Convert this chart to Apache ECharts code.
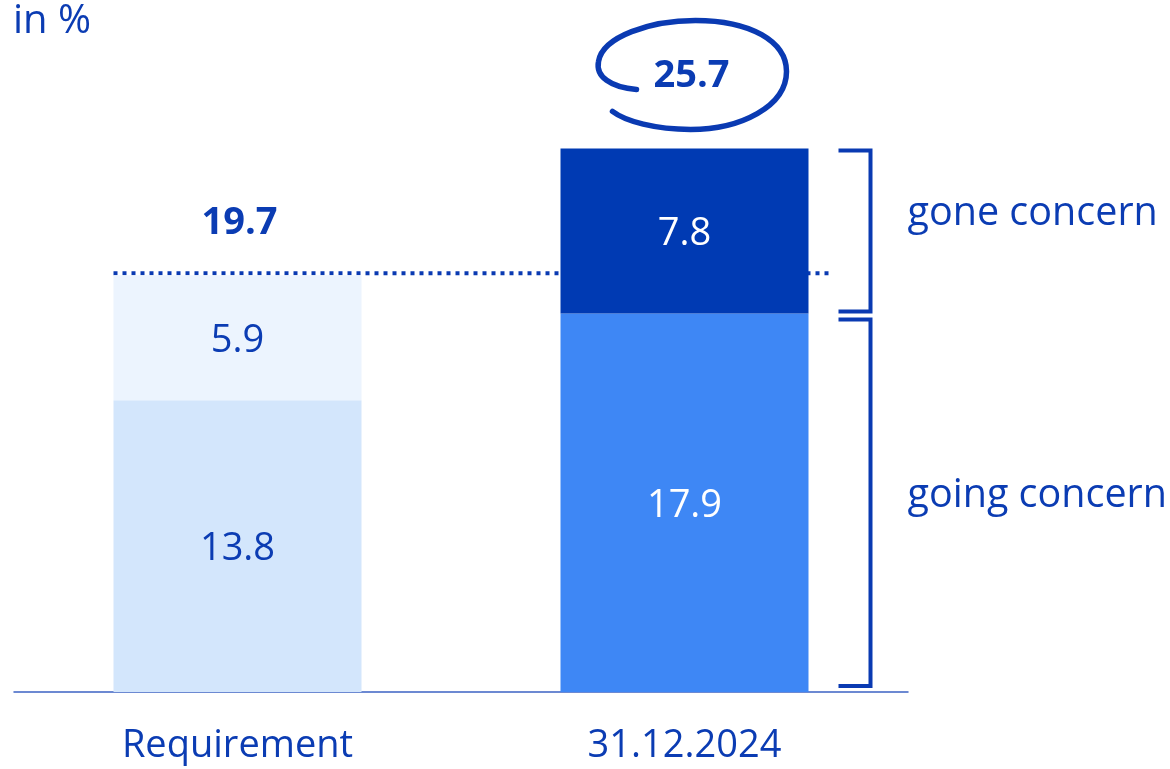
<!DOCTYPE html>
<html>
<head>
<meta charset="utf-8">
<script src="https://cdn.jsdelivr.net/npm/echarts@6/dist/echarts.min.js"></script>
<style>
  html, body { margin: 0; padding: 0; background: #ffffff; }
  #chart { width: 1170px; height: 769px; }
</style>
</head>
<body>
<div id="chart"></div>
<script>
// Capital ratios, in %
const categories = ['Requirement', '31.12.2024'];
const goingConcern = [13.8, 17.9];
const goneConcern = [5.9, 7.8];
const totals = [19.7, 25.7];
const bracketLabels = ['gone concern', 'going concern'];
const unitLabel = 'in %';

const FONT = '"Open Sans", "Noto Sans", sans-serif';
const TEXT = '#0b3cb3';
const LINE = '#0a3ab2';
const BAR_W = 248;

const baseColors = ['#d3e6fc', '#3e87f5'];
const topColors = ['#ecf4fe', '#003ab3'];
const baseLabelColors = [TEXT, '#ffffff'];
const topLabelColors = [TEXT, '#ffffff'];

// label offsets for the totals above each column
const totalOffsets = [[2, -52], [7, -72]];

const chart = echarts.init(document.getElementById('chart'), null, { renderer: 'canvas' });

function stackData(values, colors, labelColors) {
  return values.map((v, i) => ({
    value: v,
    itemStyle: { color: colors[i] },
    label: { color: labelColors[i] }
  }));
}

// bracket ranges on the reported column: gone concern on top, going concern below
const last = categories.length - 1;
const bracketData = [
  [goingConcern[last], goingConcern[last] + goneConcern[last], 0],
  [0, goingConcern[last], 1]
];
const bracketInsets = [[2, 2], [6, 6]];
const bracketTextShift = [-17, -7];

const segmentLabel = {
  show: true,
  position: 'inside',
  offset: [0, 3],
  fontFamily: FONT,
  fontSize: 38,
  formatter: p => p.value.toFixed(1)
};

const option = {
  animation: false,
  title: {
    text: unitLabel,
    left: 8,
    top: -3,
    textStyle: { fontFamily: FONT, fontSize: 40, fontWeight: 'normal', color: TEXT }
  },
  grid: { left: 14, right: 262, top: 57.5, bottom: 77, containLabel: false },
  xAxis: {
    type: 'category',
    data: categories,
    axisLine: { show: true, lineStyle: { color: '#3d63c4', width: 1.5 } },
    axisTick: { show: false },
    axisLabel: { color: TEXT, fontFamily: FONT, fontSize: 38, margin: 35 }
  },
  yAxis: {
    type: 'value',
    min: 0,
    max: 30,
    show: false,
    splitLine: { show: false }
  },
  series: [
    {
      // dotted requirement level, sitting on the requirement column and
      // running behind the reported column
      type: 'custom',
      z: 1,
      silent: true,
      data: [[0, totals[0]]],
      renderItem: function (params, api) {
        const p0 = api.coord([0, api.value(1)]);
        const p1 = api.coord([last, api.value(1)]);
        return {
          type: 'line',
          shape: { x1: p0[0] - BAR_W / 2, y1: p0[1] - 2, x2: p1[0] + BAR_W / 2 + 22, y2: p1[1] - 2 },
          style: { stroke: LINE, lineWidth: 4, lineDash: [4, 5] }
        };
      }
    },
    {
      name: 'going concern',
      type: 'bar',
      stack: 'total',
      z: 2,
      barWidth: BAR_W,
      data: stackData(goingConcern, baseColors, baseLabelColors),
      label: segmentLabel
    },
    {
      name: 'gone concern',
      type: 'bar',
      stack: 'total',
      z: 2,
      barWidth: BAR_W,
      data: stackData(goneConcern, topColors, topLabelColors),
      label: segmentLabel
    },
    {
      // totals above each column, the reported one circled
      type: 'custom',
      z: 5,
      silent: true,
      data: totals.map((t, i) => [i, t]),
      renderItem: function (params, api) {
        const i = params.dataIndex;
        const p = api.coord([api.value(0), api.value(1)]);
        const cx = p[0] + totalOffsets[i][0];
        const cy = p[1] + totalOffsets[i][1];
        const children = [{
          type: 'text',
          x: cx,
          y: cy,
          style: {
            text: api.value(1).toFixed(1),
            fill: TEXT,
            font: 'bold 38px ' + FONT,
            align: 'center',
            verticalAlign: 'middle'
          }
        }];
        if (i === last) {
          children.push({
            type: 'path',
            x: cx,
            y: cy - 1,
            shape: {
              pathData: 'M -55 14 C -81 12 -96 1 -93 -14 C -89 -39 -41 -55 4 -55 ' +
                        'C 59 -55 95 -34 95 -4 C 95 31 49 54 -1 54 C -36 54 -66 46 -79 36'
            },
            style: { fill: 'none', stroke: LINE, lineWidth: 5.5, lineCap: 'round' }
          });
        }
        return { type: 'group', children: children };
      }
    },
    {
      // brackets and their captions beside the reported column
      type: 'custom',
      z: 5,
      silent: true,
      data: bracketData,
      renderItem: function (params, api) {
        const i = params.dataIndex;
        const top = api.coord([last, api.value(1)]);
        const bot = api.coord([last, api.value(0)]);
        const x0 = top[0] + BAR_W / 2 + 30;
        const x1 = x0 + 32;
        const y0 = top[1] + bracketInsets[i][0];
        const y1 = bot[1] - bracketInsets[i][1];
        return {
          type: 'group',
          children: [
            {
              type: 'polyline',
              shape: { points: [[x0, y0], [x1, y0], [x1, y1], [x0, y1]] },
              style: { fill: 'none', stroke: LINE, lineWidth: 4, lineJoin: 'miter' }
            },
            {
              type: 'text',
              x: x1 + 37,
              y: (y0 + y1) / 2 + bracketTextShift[i],
              style: {
                text: bracketLabels[api.value(2)],
                fill: TEXT,
                font: '39.5px ' + FONT,
                align: 'left',
                verticalAlign: 'middle'
              }
            }
          ]
        };
      }
    }
  ]
};

chart.setOption(option);
</script>
</body>
</html>
